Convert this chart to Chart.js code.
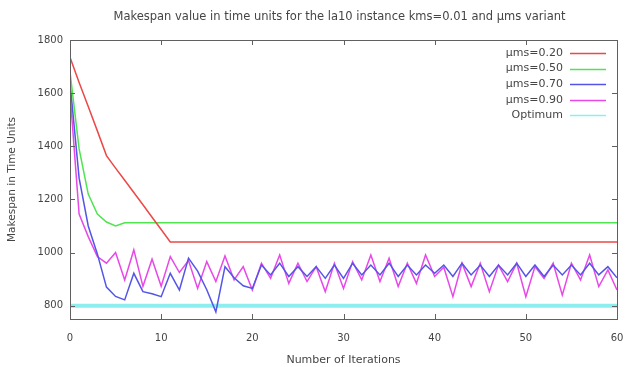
<!DOCTYPE html>
<html>
<head>
<meta charset="utf-8">
<script src="https://cdn.jsdelivr.net/npm/chart.js@4.4.1/dist/chart.umd.min.js"></script>
<style>
html,body{margin:0;padding:0;background:#fff;}
#wrap{width:625px;height:367px;position:relative;}
</style>
</head>
<body>
<div id="wrap"><canvas id="c" width="625" height="367"></canvas></div>
<script>
const chartTitle = "Makespan value in time units for the la10 instance kms=0.01 and \u03BCms variant";
const xTitle = "Number of Iterations";
const yTitle = "Makespan in Time Units";
const seriesLabels = ["\u03BCms=0.20", "\u03BCms=0.50", "\u03BCms=0.70", "\u03BCms=0.90", "Optimum"];
const xTicks = [0, 10, 20, 30, 40, 50, 60];
const yTicks = [800, 1000, 1200, 1400, 1600, 1800];

const mu020 = [1735,1640,1550,1458,1365,1318,1272,1226,1180,1133,1087,1040,
  1040,1040,1040,1040,1040,1040,1040,1040,1040,
  1040,1040,1040,1040,1040,1040,1040,1040,1040,1040,
  1040,1040,1040,1040,1040,1040,1040,1040,1040,1040,
  1040,1040,1040,1040,1040,1040,1040,1040,1040,1040,
  1040,1040,1040,1040,1040,1040,1040,1040,1040,1040];
const mu050 = [1680,1390,1220,1145,1115,1100,1112,1112,1112,1112,1112,
  1112,1112,1112,1112,1112,1112,1112,1112,1112,1112,
  1112,1112,1112,1112,1112,1112,1112,1112,1112,1112,
  1112,1112,1112,1112,1112,1112,1112,1112,1112,1112,
  1112,1112,1112,1112,1112,1112,1112,1112,1112,1112,
  1112,1112,1112,1112,1112,1112,1112,1112,1112,1112];
const mu070 = [1640,1280,1100,995,870,835,822,922,853,845,834,
  922,859,979,930,860,777,947,905,875,865,
  953,916,960,910,947,910,947,903,953,903,
  960,916,953,916,960,910,953,916,953,922,
  953,910,960,916,953,910,953,916,960,910,
  953,910,953,916,953,916,960,916,947,905];
const mu090 = [1600,1145,1060,985,960,1000,897,1010,873,975,873,
  985,925,970,865,966,891,987,897,947,859,
  960,903,991,884,960,891,947,853,960,865,
  966,897,991,891,979,872,960,884,991,910,
  945,834,960,872,960,853,953,891,960,834,
  947,903,960,840,960,897,991,872,935,859];
const optimum = [800,800,800,800,800,800,800,800,800,800,800,
  800,800,800,800,800,800,800,800,800,800,
  800,800,800,800,800,800,800,800,800,800,
  800,800,800,800,800,800,800,800,800,800,
  800,800,800,800,800,800,800,800,800,800,
  800,800,800,800,800,800,800,800,800,800];

const seriesValues = [mu020, mu050, mu070, mu090, optimum];
const colors = ['rgb(236,72,72)', 'rgb(80,228,80)', 'rgb(84,84,232)', 'rgb(232,72,232)', 'rgb(140,238,238)'];
const widths = [1.5, 1.5, 1.5, 1.5, 4];

const FONT = "'DejaVu Sans', sans-serif";
const TEXT = '#454545';

const datasets = seriesValues.map((vals, k) => ({
  label: seriesLabels[k],
  data: vals.map((v, i) => ({x: i, y: v})),
  borderColor: colors[k],
  backgroundColor: colors[k],
  borderWidth: widths[k],
  pointRadius: 0,
  tension: 0,
  fill: false
}));

const decor = {
  id: 'decor',
  afterDatasetsDraw(chart) {
    const ctx = chart.ctx;
    const a = chart.chartArea;
    const xs = chart.scales.x, ys = chart.scales.y;
    ctx.save();
    ctx.strokeStyle = '#606060';
    ctx.lineWidth = 1;
    ctx.strokeRect(Math.round(a.left) + 0.5, Math.round(a.top) + 0.5,
      Math.round(a.right - a.left), Math.round(a.bottom - a.top));
    const tl = 5;
    ctx.beginPath();
    xTicks.forEach(v => {
      const px = Math.round(xs.getPixelForValue(v)) + 0.5;
      ctx.moveTo(px, a.bottom); ctx.lineTo(px, a.bottom - tl);
      ctx.moveTo(px, a.top); ctx.lineTo(px, a.top + tl);
    });
    yTicks.forEach(v => {
      const py = Math.round(ys.getPixelForValue(v)) + 0.5;
      ctx.moveTo(a.left, py); ctx.lineTo(a.left + tl, py);
      ctx.moveTo(a.right, py); ctx.lineTo(a.right - tl, py);
    });
    ctx.stroke();
    ctx.fillStyle = TEXT;
    ctx.font = '11.5px ' + FONT;
    ctx.textAlign = 'center';
    ctx.textBaseline = 'middle';
    ctx.fillText(chartTitle, (a.left + a.right) / 2 - 4, 17);
    ctx.font = '11px ' + FONT;
    ctx.textAlign = 'right';
    chart.data.datasets.forEach((ds, k) => {
      const y = a.top + 13 + k * 15.6;
      ctx.fillStyle = TEXT;
      ctx.fillText(ds.label, a.right - 54, y);
      ctx.strokeStyle = ds.borderColor;
      ctx.lineWidth = 1.5;
      ctx.beginPath();
      ctx.moveTo(a.right - 47, Math.round(y) + 0.5);
      ctx.lineTo(a.right - 11, Math.round(y) + 0.5);
      ctx.stroke();
    });
    ctx.restore();
  }
};

new Chart(document.getElementById('c'), {
  type: 'line',
  data: { datasets },
  plugins: [decor],
  options: {
    responsive: false,
    animation: false,
    devicePixelRatio: 1,
    layout: { padding: { top: 40, right: 8, left: 0, bottom: 0 } },
    plugins: { legend: { display: false }, tooltip: { enabled: false }, title: { display: false } },
    scales: {
      x: {
        type: 'linear', min: 0, max: 60,
        afterBuildTicks: s => { s.ticks = xTicks.map(v => ({value: v})); },
        afterFit: s => { s.height = 48; s.paddingLeft = 0; s.paddingRight = 0; },
        grid: { display: false, drawTicks: false },
        border: { display: false },
        ticks: { padding: 13, color: TEXT, font: { family: FONT, size: 10 }, maxRotation: 0, callback: v => String(v) },
        title: { display: true, text: xTitle, color: TEXT, font: { family: FONT, size: 11 }, padding: { top: 2, bottom: 0 } }
      },
      y: {
        type: 'linear', min: 750, max: 1800,
        afterBuildTicks: s => { s.ticks = yTicks.map(v => ({value: v})); },
        afterFit: s => { s.width = 70; s.paddingTop = 0; s.paddingBottom = 0; },
        grid: { display: false, drawTicks: false },
        border: { display: false },
        ticks: { padding: 7, color: TEXT, font: { family: FONT, size: 10 }, callback: v => String(v) },
        title: { display: true, text: yTitle, color: TEXT, font: { family: FONT, size: 10.5 }, padding: { top: 6, bottom: 4 } }
      }
    }
  }
});
</script>
</body>
</html>
